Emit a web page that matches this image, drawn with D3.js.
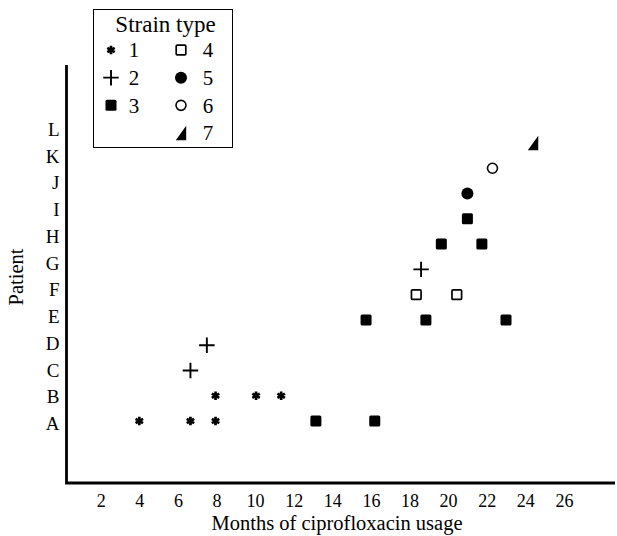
<!DOCTYPE html>
<html>
<head>
<meta charset="utf-8">
<script src="https://cdn.jsdelivr.net/npm/d3@7"></script>
<style>
  body { margin: 0; background: #fff; }
  text { font-family: "Liberation Serif", "Times New Roman", serif; fill: #000; }
</style>
</head>
<body>
<script>
// patients on the vertical axis, months on the horizontal one
var patients = ["A", "B", "C", "D", "E", "F", "G", "H", "I", "J", "K", "L"];
var monthTicks = [2, 4, 6, 8, 10, 12, 14, 16, 18, 20, 22, 24, 26];
var strainTypes = [1, 2, 3, 4, 5, 6, 7];

// one entry per isolate: patient, month, strain type
var isoPatient = ["A", "A", "A", "A", "A", "B", "B", "B", "C", "D",
                  "E", "E", "E", "F", "F", "G", "H", "H", "I", "J", "K", "L"];
var isoMonth   = [4.0, 6.65, 7.95, 13.15, 16.2, 7.95, 10.05, 11.35, 6.65, 7.5,
                  15.75, 18.85, 23.0, 18.35, 20.45, 18.6, 19.65, 21.75, 21.0, 21.0, 22.3, 24.4];
var isoStrain  = [1, 1, 1, 3, 3, 1, 1, 1, 2, 2,
                  3, 3, 3, 4, 4, 2, 3, 3, 3, 5, 6, 7];

var W = 617, H = 536;
var svg = d3.select("body").append("svg").attr("width", W).attr("height", H);

var x = d3.scaleLinear().domain([0, 28]).range([62.1, 602.5]);
// points and typeset row labels are slightly out of step in the original
var y = d3.scalePoint().domain(patients).range([421, 143]);
var yLab = d3.scalePoint().domain(patients).range([423, 129]);

var axisX0 = 66.5, axisY0 = 483, axisTop = 65, axisRight = 615;

// right-angled triangle for strain 7
var symbolWedge = {
  draw: function (ctx, size) {
    var w = Math.sqrt(size) * 0.85, h = w * 1.4;
    ctx.moveTo(w / 2, -h / 2);
    ctx.lineTo(w / 2, h / 2);
    ctx.lineTo(-w / 2, h / 2);
    ctx.closePath();
  }
};

function marker(sel, t) {
  if (t === 1) {
    sel.append("path").attr("d", d3.symbol(d3.symbolAsterisk, 52)())
      .attr("fill", "none").attr("stroke", "#000").attr("stroke-width", 2.7);
  } else if (t === 2) {
    sel.append("path").attr("d", d3.symbol(d3.symbolPlus, 80)())
      .attr("fill", "none").attr("stroke", "#000").attr("stroke-width", 1.9);
  } else if (t === 3) {
    sel.append("rect").attr("x", -5.5).attr("y", -5.5).attr("width", 11).attr("height", 11)
      .attr("rx", 1.5).attr("fill", "#000");
  } else if (t === 4) {
    sel.append("rect").attr("x", -4.8).attr("y", -4.8).attr("width", 9.6).attr("height", 9.6)
      .attr("rx", 1).attr("fill", "#fff").attr("stroke", "#000").attr("stroke-width", 1.7);
  } else if (t === 5) {
    sel.append("circle").attr("r", 6).attr("fill", "#000");
  } else if (t === 6) {
    sel.append("circle").attr("r", 5).attr("fill", "#fff")
      .attr("stroke", "#000").attr("stroke-width", 1.6);
  } else {
    sel.append("path").attr("d", d3.symbol(symbolWedge, 150)()).attr("fill", "#000");
  }
}

// axes lines
svg.append("path")
  .attr("d", d3.line()([[axisX0, axisTop], [axisX0, axisY0], [axisRight, axisY0]]))
  .attr("fill", "none").attr("stroke", "#000").attr("stroke-width", 2.8);

// x tick labels
var gx = svg.append("g").attr("transform", "translate(0," + axisY0 + ")")
  .call(d3.axisBottom(x).tickValues(monthTicks).tickSize(0).tickFormat(d3.format("d")));
gx.select(".domain").remove();
gx.selectAll("text").attr("y", 24).attr("dy", 0)
  .style("font-family", "Liberation Serif").style("font-size", "18px");

// y tick labels
var gy = svg.append("g").attr("transform", "translate(" + axisX0 + ",0)")
  .call(d3.axisLeft(yLab).tickSize(0).tickPadding(7));
gy.select(".domain").remove();
gy.selectAll("text").attr("dy", "0.34em")
  .style("font-family", "Liberation Serif").style("font-size", "19px");

// axis titles
svg.append("text").attr("x", 337).attr("y", 530).attr("text-anchor", "middle")
  .style("font-size", "20.5px").text("Months of ciprofloxacin usage");
svg.append("text").attr("transform", "translate(23,277) rotate(-90)")
  .attr("text-anchor", "middle").style("font-size", "20.5px").text("Patient");

// data
isoPatient.forEach(function (p, i) {
  var g = svg.append("g")
    .attr("transform", "translate(" + x(isoMonth[i]) + "," + y(p) + ")");
  marker(g, isoStrain[i]);
});

// legend
var lg = svg.append("g");
lg.append("rect").attr("x", 93.5).attr("y", 9.5).attr("width", 139).attr("height", 138)
  .attr("fill", "#fff").attr("stroke", "#000").attr("stroke-width", 1);
lg.append("text").attr("x", 165.5).attr("y", 32).attr("text-anchor", "middle")
  .style("font-size", "23px").text("Strain type");
var legRow = d3.scalePoint().domain([0, 1, 2, 3]).range([50, 133]);
strainTypes.forEach(function (t, i) {
  var col = i < 3 ? 0 : 1, row = i < 3 ? i : i - 3;
  var sx = col === 0 ? 111 : 181, lx = col === 0 ? 134 : 208;
  var gi = lg.append("g").attr("transform", "translate(" + sx + "," + legRow(row) + ")");
  marker(gi, t);
  lg.append("text").attr("x", lx).attr("y", legRow(row)).attr("dy", "0.35em")
    .attr("text-anchor", "middle").style("font-size", "21px").text(t);
});
</script>
</body>
</html>
